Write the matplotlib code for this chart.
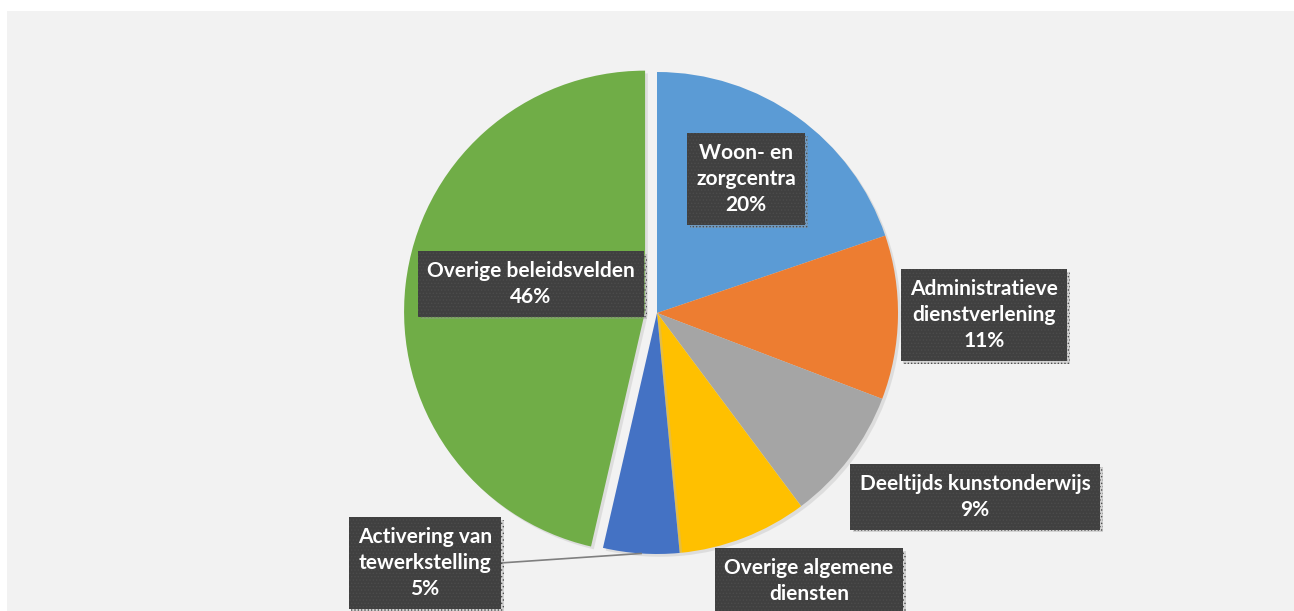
import numpy as np
import matplotlib.pyplot as plt
import matplotlib.patheffects as pe
from matplotlib.patches import Rectangle

plt.rcParams['font.family'] = ['Lato', 'DejaVu Sans']
plt.rcParams['hatch.linewidth'] = 0.6

# data
labels = ['Woon- en\nzorgcentra', 'Administratieve\ndienstverlening',
          'Deeltijds kunstonderwijs', 'Overige algemene\ndiensten',
          'Activering van\ntewerkstelling', 'Overige beleidsvelden']
shares = [19.8, 11.0, 9.0, 8.7, 5.1, 46.4]
colors = ['#5b9bd5', '#ed7d31', '#a5a5a5', '#ffc000', '#4472c4', '#70ad47']

# label box centres in pixel coordinates (x, y from top)
label_pos = [(746, 179), (984, 315), (975, 497), (809, 594), (425, 563), (531, 284)]

W, H = 1294, 611
fig = plt.figure(figsize=(W / 100, H / 100), dpi=100)
fig.patch.set_facecolor('white')
ax = fig.add_axes([0, 0, 1, 1])

ax.add_patch(Rectangle((7, 0), W - 7, H - 11, fc='#f2f2f2', ec='none', zorder=0))

cx, cy, r = 657, H - 313, 241
# explode is in data units here (pixels), only the last slice is pulled out
wedges, _ = ax.pie(shares, colors=colors, explode=[0, 0, 0, 0, 0, 12], startangle=90,
                   counterclock=False, center=(cx, cy), radius=r,
                   wedgeprops=dict(linewidth=0))
# pie() resets the limits, so set them afterwards
ax.set_xlim(0, W)
ax.set_ylim(0, H)
ax.set_aspect('equal')
ax.axis('off')

for w in wedges:
    w.set_zorder(2)
    w.set_path_effects([pe.SimplePatchShadow(offset=(2, -2), shadow_rgbFace='#b8b8b8', alpha=0.35),
                        pe.Normal()])

bbox = dict(boxstyle='square,pad=0.45', fc='#404040', ec='#4c4c4c', lw=0, hatch='.....')
for lab, s, (x, y) in zip(labels, shares, label_pos):
    t = ax.text(x, H - y, f'{lab}\n{round(s)}%', ha='center', va='center',
                color='white', fontsize=15, fontweight='bold', linespacing=1.4,
                bbox=bbox, zorder=5)
    t.get_bbox_patch().set_path_effects([pe.SimplePatchShadow(offset=(2, -2), shadow_rgbFace='#999999', alpha=0.35),
                                         pe.Normal()])

# leader line for the small slice
w = wedges[4]
mid = np.deg2rad((w.theta1 + w.theta2) / 2)
px, py = w.center[0] + r * np.cos(mid), w.center[1] + r * np.sin(mid)
ax.plot([500, px], [H - 563, py], color='#7f7f7f', lw=1.2, zorder=3)

fig.savefig('out.png', dpi=100)
